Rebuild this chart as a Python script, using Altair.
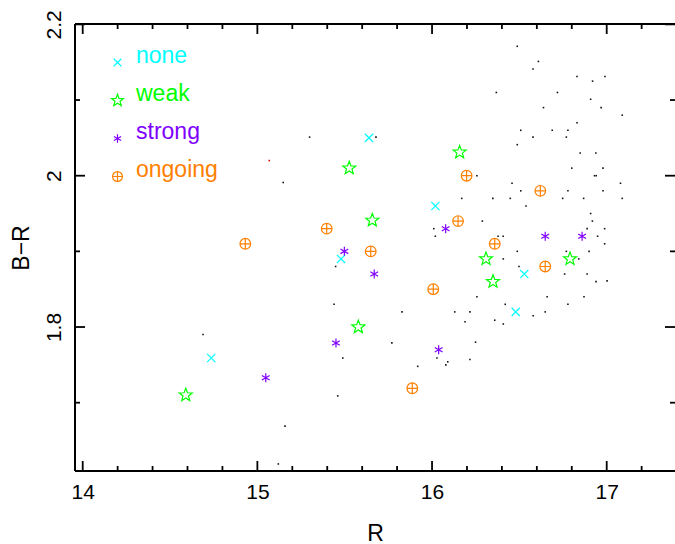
import altair as alt
import pandas as pd

FONT = "Liberation Sans"

# ---- categories and colours ----
classes = ["none", "weak", "strong", "ongoing"]
class_colors = ["#00FFFF", "#00FF00", "#8000FF", "#FF8000"]

# ---- classified galaxies (R, B-R) ----
none_R = [14.736, 15.639, 16.019, 15.479, 16.528, 16.479]
none_BR = [1.759, 2.050, 1.960, 1.890, 1.870, 1.820]

weak_R = [14.590, 15.526, 16.158, 15.658, 16.309, 16.790, 16.349, 15.578]
weak_BR = [1.710, 2.010, 2.031, 1.941, 1.890, 1.890, 1.860, 1.800]

strong_R = [15.048, 15.450, 15.498, 15.669, 16.078, 16.648, 16.859, 16.038]
strong_BR = [1.733, 1.779, 1.900, 1.870, 1.930, 1.920, 1.920, 1.770]

ongoing_R = [14.931, 15.397, 15.649, 16.198, 16.149, 16.359, 16.620, 16.648, 16.007, 15.887]
ongoing_BR = [1.910, 1.930, 1.900, 2.000, 1.940, 1.910, 1.980, 1.880, 1.850, 1.719]

# ---- background sample (small dots) ----
field_R = [16.488, 16.609, 16.578, 16.830, 16.990, 16.919, 16.368, 16.718, 16.908, 16.638,
           16.968, 17.089, 16.830, 16.508, 16.688, 16.778, 16.578, 16.769, 15.679, 15.299,
           16.488, 16.848, 16.938, 16.800, 16.979, 16.930, 16.940, 16.257, 16.458, 17.079,
           15.148, 16.508, 16.778, 16.979, 16.170, 16.348, 16.448, 16.748, 16.868, 17.089,
           16.538, 16.908, 16.288, 16.918, 16.888, 16.988, 16.010, 16.019, 16.378, 16.407,
           16.948, 16.988, 16.488, 16.769, 16.899, 16.408, 16.840, 16.498, 15.448, 16.759,
           16.888, 16.939, 17.002, 16.257, 16.659, 16.870, 16.419, 16.778, 15.439, 15.828,
           16.130, 16.217, 16.648, 16.579, 16.189, 16.359, 16.408, 15.770, 16.249, 15.489,
           16.028, 16.217, 16.090, 16.079, 15.918, 14.689, 15.158, 15.120, 15.460]
field_BR = [2.171, 2.151, 2.141, 2.131, 2.131, 2.125, 2.110, 2.110, 2.101, 2.090,
            2.090, 2.080, 2.070, 2.060, 2.060, 2.060, 2.051, 2.051, 2.051, 2.051,
            2.041, 2.030, 2.030, 2.010, 2.010, 2.000, 2.000, 2.000, 1.990, 1.990,
            1.991, 1.980, 1.980, 1.980, 1.970, 1.970, 1.970, 1.970, 1.970, 1.970,
            1.960, 1.950, 1.940, 1.940, 1.930, 1.930, 1.930, 1.920, 1.920, 1.920,
            1.920, 1.910, 1.900, 1.900, 1.900, 1.890, 1.890, 1.880, 1.880, 1.870,
            1.870, 1.860, 1.861, 1.840, 1.840, 1.840, 1.830, 1.830, 1.830, 1.820,
            1.820, 1.820, 1.820, 1.815, 1.807, 1.809, 1.804, 1.779, 1.780, 1.759,
            1.759, 1.757, 1.754, 1.750, 1.748, 1.790, 1.669, 1.619, 1.709]
red_R = [15.068]
red_BR = [2.020]

# ---- axis ticks ----
x_major = [14, 15, 16, 17]
x_minor = [14.2, 14.4, 14.6, 14.8, 15.2, 15.4, 15.6, 15.8, 16.2, 16.4, 16.6, 16.8, 17.2]
y_major = [1.8, 2.0, 2.2]
y_minor = [1.7, 1.9, 2.1]

# ---- marker paths (custom symbols) ----
star = ("M0,-1L0.2469,-0.3398L0.9511,-0.309L0.3995,0.1298L0.5878,0.809L0,0.42"
        "L-0.5878,0.809L-0.3995,0.1298L-0.9511,-0.309L-0.2469,-0.3398Z")
cross = "M-0.6,-0.6L0.6,0.6M-0.6,0.6L0.6,-0.6"
aster = "M0,-0.66L0,0.66M-0.57,-0.33L0.57,0.33M-0.57,0.33L0.57,-0.33"
oplus = ("M-0.78,0A0.78,0.78,0,1,1,0.78,0A0.78,0.78,0,1,1,-0.78,0Z"
         "M-0.78,0L0.78,0M0,-0.78L0,0.78")
class_shapes = [cross, star, aster, oplus]

W, H = 600, 447

pts = pd.concat([
    pd.DataFrame({"R": none_R, "BR": none_BR, "cls": "none"}),
    pd.DataFrame({"R": weak_R, "BR": weak_BR, "cls": "weak"}),
    pd.DataFrame({"R": strong_R, "BR": strong_BR, "cls": "strong"}),
    pd.DataFrame({"R": ongoing_R, "BR": ongoing_BR, "cls": "ongoing"}),
], ignore_index=True)
dots = pd.DataFrame({"R": field_R, "BR": field_BR})
reds = pd.DataFrame({"R": red_R, "BR": red_BR})

xscale = alt.Scale(domain=[13.9559, 17.391], nice=False, zero=False)
yscale = alt.Scale(domain=[1.6097, 2.2005], nice=False, zero=False)
xaxis = alt.Axis(values=x_major, title="R", labelBaseline="alphabetic", labelPadding=27.7,
                 labelFlush=False, labelOverlap=False, titleBaseline="alphabetic", titleY=69)
yaxis = alt.Axis(values=y_major, format="~g", title="B\u2212R", labelAngle=270,
                 labelAlign="center", labelBaseline="alphabetic", labelPadding=15,
                 labelFlush=False, labelOverlap=False, titleAngle=270, titleAlign="center",
                 titleBaseline="alphabetic", titleX=-47, titleY=223.5)


def X(f):
    return alt.X(f, type="quantitative", scale=xscale, axis=xaxis)


def Y(f):
    return alt.Y(f, type="quantitative", scale=yscale, axis=yaxis)


legend = alt.Legend(
    title=None, orient="none", legendX=31, legendY=19.5, padding=0,
    clipHeight=38, rowPadding=0,
    symbolSize=160, symbolStrokeWidth=1.2, labelFont=FONT, labelFontSize=23,
    labelBaseline="alphabetic", labelOffset=7,
    labelColor=alt.ExprRef(expr="scale('color', datum.value)"),
)

scatter = alt.Chart(pts).mark_point(filled=False, strokeWidth=1.2, size=187, opacity=1).encode(
    x=X("R"), y=Y("BR"),
    color=alt.Color("cls:N", scale=alt.Scale(domain=classes, range=class_colors), legend=legend),
    shape=alt.Shape("cls:N", scale=alt.Scale(domain=classes, range=class_shapes), legend=legend),
)
dot_layer = alt.Chart(dots).mark_square(size=2.5, color="#111111", opacity=1).encode(x=X("R"), y=Y("BR"))
red_layer = alt.Chart(reds).mark_square(size=2.5, color="#dd0000", opacity=1).encode(x=X("R"), y=Y("BR"))

one = alt.Data(values=[{"a": 1}])
TW = 1.8
frame = [
    alt.Chart(one).mark_rule(color="black", strokeWidth=2).encode(x=alt.value(0), y=alt.value(0), y2=alt.value(H)),
    alt.Chart(one).mark_rule(color="black", strokeWidth=2).encode(x=alt.value(0), x2=alt.value(W), y=alt.value(0)),
    alt.Chart(one).mark_rule(color="black", strokeWidth=2).encode(x=alt.value(0), x2=alt.value(W), y=alt.value(H)),
]

ticks = []
for vals, L in [(x_major, 10), (x_minor, 5)]:
    d = pd.DataFrame({"v": vals})
    ticks.append(alt.Chart(d).mark_rule(color="black", strokeWidth=TW).encode(
        x=X("v"), y=alt.value(H), y2=alt.value(H - L)))
    ticks.append(alt.Chart(d).mark_rule(color="black", strokeWidth=TW).encode(
        x=X("v"), y=alt.value(0), y2=alt.value(L)))
for vals, L in [(y_major, 10), (y_minor, 5)]:
    d = pd.DataFrame({"v": vals})
    ticks.append(alt.Chart(d).mark_rule(color="black", strokeWidth=TW).encode(
        y=Y("v"), x=alt.value(0), x2=alt.value(L)))
    ticks.append(alt.Chart(d).mark_rule(color="black", strokeWidth=TW).encode(
        y=Y("v"), x=alt.value(W), x2=alt.value(W - L)))

chart = alt.layer(scatter, dot_layer, red_layer, *frame, *ticks).properties(
    width=W, height=H,
    autosize=alt.AutoSizeParams(type="none"),
    padding={"left": 75, "top": 24, "right": 0, "bottom": 73},
    background="white",
).configure_axis(
    grid=False, domain=False, ticks=False, tickSize=0,
    labelFont=FONT, labelFontSize=21, labelColor="black",
    titleFont=FONT, titleFontSize=23, titleFontWeight="normal", titleColor="black",
).configure_view(stroke=None)

chart.save("out.html", embed_options={"renderer": "svg", "actions": False})
